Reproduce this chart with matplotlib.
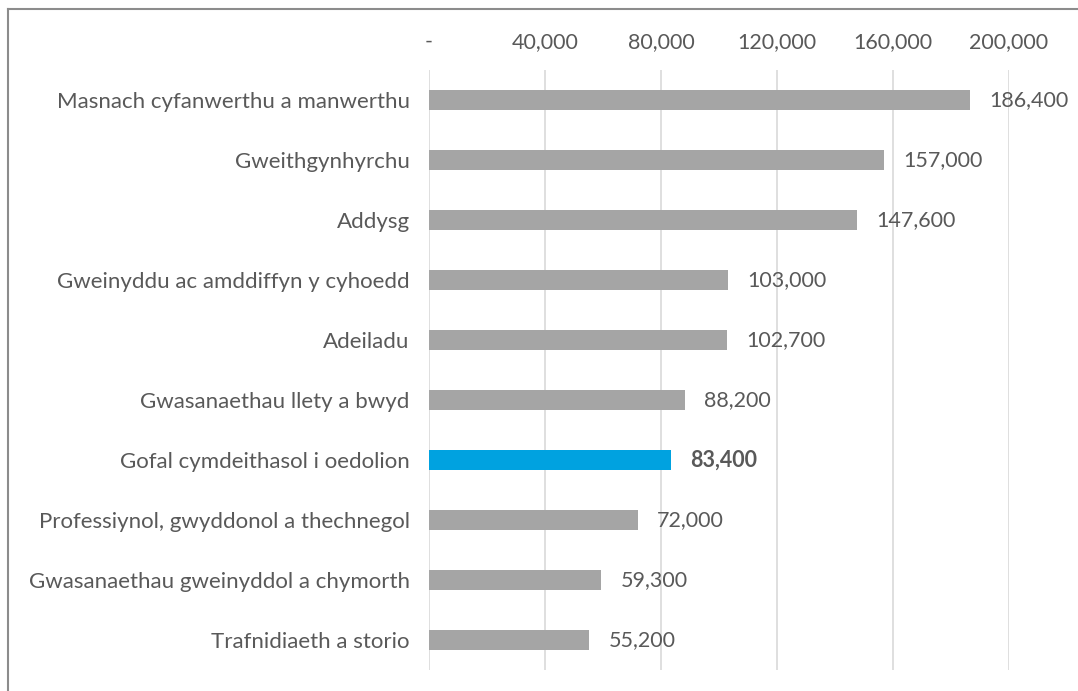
import matplotlib.pyplot as plt
from matplotlib.lines import Line2D
from matplotlib.ticker import FuncFormatter

# data (top to bottom)
sectores = ['Masnach cyfanwerthu a manwerthu', 'Gweithgynhyrchu', 'Addysg',
            'Gweinyddu ac amddiffyn y cyhoedd', 'Adeiladu',
            'Gwasanaethau llety a bwyd', 'Gofal cymdeithasol i oedolion',
            'Professiynol, gwyddonol a thechnegol',
            'Gwasanaethau gweinyddol a chymorth', 'Trafnidiaeth a storio']
gweithwyr = [186400, 157000, 147600, 103000, 102700, 88200, 83400, 72000, 59300, 55200]
uchafbwynt = 'Gofal cymdeithasol i oedolion'
ticiau = [0, 40000, 80000, 120000, 160000, 200000]

LLWYD = '#A5A5A5'
GLAS = '#00A2E0'
TESTUN = '#595959'

plt.rcParams['font.family'] = ['Lato', 'DejaVu Sans']

fig = plt.figure(figsize=(10.78, 6.91), dpi=100)
ax = fig.add_axes([0.398, 0.030, 0.538, 0.869])

pos = list(range(len(sectores)))
lliwiau = [GLAS if s == uchafbwynt else LLWYD for s in sectores]
ax.barh(pos, gweithwyr, height=0.34, color=lliwiau, zorder=2)

for i, (s, v) in enumerate(zip(sectores, gweithwyr)):
    ax.annotate(f'{v:,}', xy=(v, i), xytext=(14, 0), textcoords='offset points',
                va='center', ha='left', fontsize=15.5, color=TESTUN,
                fontweight='bold' if s == uchafbwynt else 'normal')

ax.set_xlim(0, 200000)
ax.set_ylim(len(sectores) - 0.5, -0.5)
ax.set_yticks(pos)
ax.set_yticklabels(sectores, fontsize=16, color=TESTUN)
ax.set_xticks(ticiau)
ax.xaxis.set_major_formatter(FuncFormatter(lambda x, p: '-' if x == 0 else f'{int(x):,}'))
ax.xaxis.tick_top()
ax.tick_params(axis='x', length=0, pad=13, labelsize=15.5, labelcolor=TESTUN)
ax.tick_params(axis='y', length=0, pad=14)
ax.grid(axis='x', color='#D9D9D9', linewidth=1.2, zorder=0)
for sp in ax.spines.values():
    sp.set_visible(False)

# border on top and left
fig.add_artist(Line2D([8 / 1078, 8 / 1078], [0, 1 - 9 / 691], transform=fig.transFigure,
                      color='#8C8C8C', linewidth=1.5))
fig.add_artist(Line2D([8 / 1078, 1], [1 - 9 / 691, 1 - 9 / 691], transform=fig.transFigure,
                      color='#8C8C8C', linewidth=1.5))

fig.savefig('out.png', dpi=100)
